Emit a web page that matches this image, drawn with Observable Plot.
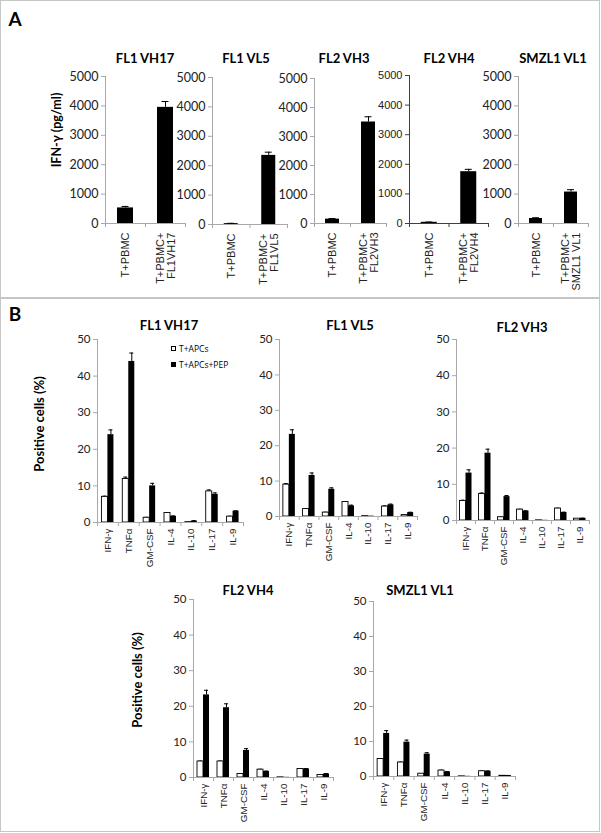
<!DOCTYPE html>
<html>
<head>
<meta charset="utf-8">
<script src="https://cdn.jsdelivr.net/npm/d3@7"></script>
<script src="https://cdn.jsdelivr.net/npm/@observablehq/plot@0.6"></script>
<style>
  body { margin: 0; background: #fff; }
  #fig { position: relative; width: 601px; height: 833px; overflow: hidden; font-family: Lato, "Open Sans", sans-serif; background: #fff; }
  .box { position: absolute; border: 1.5px solid #c6c6c6; box-sizing: border-box; }
  .lbl { position: absolute; white-space: nowrap; transform: translate(-50%, -50%); color: #000; line-height: 1; }
  .sub { position: absolute; }
</style>
</head>
<body>
<div id="fig"></div>
<script>
// ---------------- DATA ----------------
// Panel A: IFN-γ (pg/ml)
const aTitles = ["FL1 VH17", "FL1 VL5", "FL2 VH3", "FL2 VH4", "SMZL1 VL1"];
const aCategories = [
  ["T+PBMC", "T+PBMC+\nFL1VH17"],
  ["T+PBMC", "T+PBMC+\nFL1VL5"],
  ["T+PBMC", "T+PBMC+\nFL2VH3"],
  ["T+PBMC", "T+PBMC+\nFL2VH4"],
  ["T+PBMC", "T+PBMC+\nSMZL1 VL1"]
];
const aMeans = [[530, 3950], [30, 2350], [150, 3500], [40, 1750], [170, 1070]];
const aErrors = [[50, 200], [10, 110], [20, 180], [10, 80], [25, 80]];
const aTicks = [0, 1000, 2000, 3000, 4000, 5000];
const aYLabel = "IFN-γ (pg/ml)";

// Panel B: Positive cells (%)
const bTitles = ["FL1 VH17", "FL1 VL5", "FL2 VH3", "FL2 VH4", "SMZL1 VL1"];
const cytokines = ["IFN-γ", "TNFα", "GM-CSF", "IL-4", "IL-10", "IL-17", "IL-9"];
const legendLabels = ["T+APCs", "T+APCs+PEP"];
const bControl = [
  [7.0, 11.9, 1.3, 2.6, 0.1, 8.5, 1.6],
  [9.0, 2.1, 1.1, 4.1, 0.1, 2.8, 0.4],
  [5.4, 7.3, 0.9, 3.0, 0.05, 3.3, 0.5],
  [4.5, 4.5, 1.0, 2.2, 0.05, 2.4, 0.7],
  [5.0, 4.0, 0.8, 1.7, 0.05, 1.5, 0.2]
];
const bControlErr = [
  [0.2, 0.5, 0.1, 0.1, 0, 0.4, 0.1],
  [0.3, 0.1, 0.1, 0.1, 0, 0.2, 0],
  [0.2, 0.3, 0.05, 0.1, 0, 0.1, 0],
  [0.1, 0.1, 0.05, 0.1, 0, 0.1, 0],
  [0.1, 0.1, 0.05, 0.1, 0, 0.1, 0]
];
const bPeptide = [
  [24.0, 44.0, 10.0, 1.7, 0.4, 7.7, 3.1],
  [23.2, 11.6, 7.7, 3.0, 0.1, 3.3, 1.1],
  [13.1, 18.6, 6.6, 2.6, 0.05, 2.2, 0.6],
  [23.2, 19.6, 7.6, 1.7, 0.05, 2.4, 1.0],
  [12.3, 9.8, 6.4, 1.3, 0.05, 1.5, 0.3]
];
const bPeptideErr = [
  [1.3, 2.3, 0.7, 0.1, 0.1, 0.4, 0.1],
  [1.3, 0.7, 0.4, 0.2, 0, 0.2, 0.1],
  [0.9, 1.1, 0.3, 0.1, 0, 0.1, 0.05],
  [1.3, 1.1, 0.5, 0.1, 0, 0.1, 0.1],
  [0.8, 0.6, 0.4, 0.1, 0, 0.1, 0]
];
const bTicks = [0, 10, 20, 30, 40, 50];
const bYLabel = "Positive cells (%)";

// ---------------- LAYOUT ----------------
const aLayout = [
  {x0: 105, x1: 185, yTop: 76, y0: 223, barW: 16, tx: 145},
  {x0: 212, x1: 287, yTop: 77, y0: 224, barW: 14, tx: 246},
  {x0: 314, x1: 386, yTop: 78, y0: 223, barW: 14, tx: 344},
  {x0: 409, x1: 488, yTop: 75, y0: 223, barW: 16, tx: 449, tickFont: "Liberation Sans", tickSize: 11, axis: "#404040"},
  {x0: 518, x1: 588, yTop: 76, y0: 223, barW: 13, tx: 553}
];
const bLayout = [
  {x0: 97, x1: 243, yTop: 339, y0: 522, tx: 169, ty: 325},
  {x0: 279, x1: 417, yTop: 339, y0: 516, tx: 350, ty: 325},
  {x0: 456, x1: 589, yTop: 339, y0: 520, tx: 522, ty: 327},
  {x0: 193, x1: 333, yTop: 599, y0: 777, tx: 248, ty: 590},
  {x0: 373, x1: 515, yTop: 601, y0: 776, tx: 420, ty: 590}
];

const GRAY = "#a8a8a8";
const fig = document.getElementById("fig");

function addBox(l, t, w, h) {
  const d = document.createElement("div");
  d.className = "box";
  Object.assign(d.style, {left: l + "px", top: t + "px", width: w + "px", height: h + "px"});
  fig.appendChild(d);
}
function addText(txt, x, y, css) {
  const d = document.createElement("div");
  d.className = "lbl";
  d.textContent = txt;
  Object.assign(d.style, {left: x + "px", top: y + "px"}, css || {});
  fig.appendChild(d);
}

function chart(o) {
  const n = o.cats.length;
  const bw = (o.x1 - o.x0) / n;
  const mL = 48, mR = 8, mT = 10, mB = 80;
  const k = o.series.length;
  const axisColor = o.axis || GRAY;
  const marks = [];
  o.series.forEach((s, j) => {
    const off = (j - (k - 1) / 2) * o.barW;
    const inL = bw / 2 + off - o.barW / 2;
    const inR = bw - inL - o.barW;
    const rows = o.cats.map((c, i) => ({cat: c, v: s.vals[i], e: s.errs[i]}));
    const withErr = rows.filter(d => d.e > 0);
    marks.push(Plot.ruleX(withErr, {x: "cat", y1: "v", y2: d => d.v + d.e, dx: off, stroke: "#000", strokeWidth: 1}));
    marks.push(Plot.tickY(withErr, {x: "cat", y: d => d.v + d.e, insetLeft: bw / 2 + off - o.capW / 2, insetRight: bw / 2 - off - o.capW / 2, stroke: "#000", strokeWidth: 1}));
    marks.push(Plot.barY(rows, {x: "cat", y: "v", fill: s.fill, stroke: s.fill === "white" ? "#000" : "none", strokeWidth: 0.9, insetLeft: inL, insetRight: inR}));
  });
  // axis lines
  marks.push(Plot.ruleY([0], {stroke: axisColor, strokeWidth: 1}));
  marks.push(Plot.ruleX([o.cats[0]], {dx: -bw / 2, y1: 0, y2: o.ymax, stroke: axisColor, strokeWidth: 1}));
  // y ticks & labels
  marks.push(Plot.axisY({ticks: o.yticks, tickSize: 4, tickFormat: () => "", stroke: axisColor, label: null}));
  marks.push(Plot.axisY({ticks: o.yticks, tickSize: 0, tickPadding: 7, tickFormat: d => String(d), fontSize: o.tickSize, fontFamily: o.tickFont, fill: "#222", label: null}));
  // x boundary ticks
  marks.push(Plot.axisX({ticks: o.cats, tickSize: 4, tickFormat: () => "", dx: -bw / 2, stroke: axisColor, label: null}));
  marks.push(Plot.axisX({ticks: [o.cats[n - 1]], tickSize: 4, tickFormat: () => "", dx: bw / 2, stroke: axisColor, label: null}));
  // x labels rotated
  marks.push(Plot.axisX({ticks: o.cats, tickSize: 0, tickPadding: o.labelPad, tickRotate: -90, textAnchor: "end", lineAnchor: "middle", fontSize: o.labelSize, fontFamily: "Liberation Sans", fill: "#222", label: null}));

  const svg = Plot.plot({
    width: (o.x1 - o.x0) + mL + mR,
    height: (o.y0 - o.yTop) + mT + mB,
    marginLeft: mL, marginRight: mR, marginTop: mT, marginBottom: mB,
    x: {domain: o.cats, padding: 0, round: false, label: null},
    y: {domain: [0, o.ymax], label: null},
    style: {background: "transparent", overflow: "visible", fontFamily: "Lato"},
    marks
  });
  svg.classList.add("sub");
  svg.style.left = (o.x0 - mL) + "px";
  svg.style.top = (o.yTop - mT) + "px";
  fig.appendChild(svg);
}

// frame boxes
addBox(0, 0, 600, 299);
addBox(0, 297, 600, 535);

// Panel A
addText("A", 15, 18, {fontWeight: "bold", fontSize: "19px"});
aTitles.forEach((t, i) => {
  const L = aLayout[i];
  chart({
    cats: aCategories[i],
    series: [{vals: aMeans[i], errs: aErrors[i], fill: "#000"}],
    x0: L.x0, x1: L.x1, yTop: L.yTop, y0: L.y0, barW: L.barW, capW: 7,
    ymax: 5000, yticks: aTicks,
    tickFont: L.tickFont || "Lato", tickSize: L.tickSize || 12.5,
    labelSize: 11, labelPad: 9, axis: L.axis
  });
  addText(t, L.tx, 58, {fontWeight: "bold", fontSize: "13px"});
});
addText(aYLabel, 57, 130, {fontWeight: "bold", fontSize: "12.5px", transform: "translate(-50%,-50%) rotate(-90deg)"});

// Panel B
addText("B", 15, 313, {fontWeight: "bold", fontSize: "19px"});
bTitles.forEach((t, i) => {
  const L = bLayout[i];
  chart({
    cats: cytokines,
    series: [
      {vals: bControl[i], errs: bControlErr[i], fill: "white"},
      {vals: bPeptide[i], errs: bPeptideErr[i], fill: "#000"}
    ],
    x0: L.x0, x1: L.x1, yTop: L.yTop, y0: L.y0, barW: 6, capW: 4,
    ymax: 50, yticks: bTicks,
    tickFont: "Lato", tickSize: 11.5,
    labelSize: 9.8, labelPad: 6
  });
  addText(t, L.tx, L.ty, {fontWeight: "bold", fontSize: "13px"});
});
addText(bYLabel, 39, 424, {fontWeight: "bold", fontSize: "13px", transform: "translate(-50%,-50%) rotate(-90deg)"});
addText(bYLabel, 137, 680, {fontWeight: "bold", fontSize: "13px", transform: "translate(-50%,-50%) rotate(-90deg)"});

// legend
[["white", 349], ["#000", 365]].forEach(([c, y], i) => {
  const sq = document.createElement("div");
  Object.assign(sq.style, {position: "absolute", left: "171px", top: (y - 3) + "px", width: "5px", height: "5px", background: c, border: "0.8px solid #000", boxSizing: "border-box"});
  fig.appendChild(sq);
  const t = document.createElement("div");
  t.className = "lbl";
  t.textContent = legendLabels[i];
  Object.assign(t.style, {left: "179px", top: y + "px", transform: "translate(0,-50%)", fontSize: "8.5px", fontFamily: "Open Sans"});
  fig.appendChild(t);
});
</script>
</body>
</html>
